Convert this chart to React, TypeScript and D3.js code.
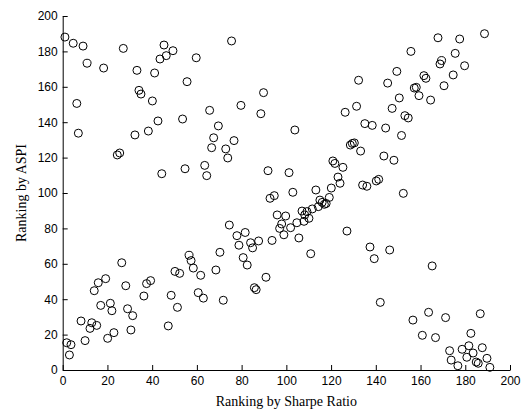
import React, { useEffect, useRef } from "react";
import * as d3 from "d3";

// points: [sharpe ratio rank, ASPI rank]
const topLeft: [number, number][] = [
  [1.0, 188.1], [4.7, 184.6], [9.1, 183], [10.9, 173.3], [18.3, 170.6], [27.1, 181.7],
  [33.2, 169.3], [41.1, 167.8], [43.5, 175.7], [45.3, 183.6], [46.3, 177.6], [49.3, 180.4],
  [59.7, 176.4], [55.6, 162.9], [34.1, 158], [35, 155.9], [40.1, 152], [6.3, 150.6],
  [65.7, 146.7], [42.6, 140.7], [53.6, 141.8], [38.3, 135], [32.3, 132.8], [7, 133.8],
  [69.6, 137.9], [24.4, 121.5], [25.5, 122.6], [44.3, 110.9], [54.7, 113.7], [63.5, 115.6],
  [64.4, 109.8], [67.5, 131.2], [66.6, 125.6],
];

const topMiddle: [number, number][] = [
  [75.5, 185.9], [79.7, 149.5], [89.8, 156.7], [88.6, 144.8], [103.8, 135.6],
  [132.3, 163.7], [131.4, 149], [126.3, 145.6],
];

const topRight: [number, number][] = [
  [167.8, 187.7], [177.5, 187], [188.6, 190], [155.7, 180], [175.5, 178.9], [169.4, 174.8],
  [168.7, 172.9], [179.7, 171.9], [149.4, 168.7], [145.3, 162.1], [161.5, 166.3], [162.4, 164.8],
  [174.6, 166.7], [170.5, 160.6], [157.2, 159.3], [158.1, 159.7], [159.3, 155], [164.5, 152.5],
  [150.5, 153.7], [147.3, 147.8], [153, 143.7], [154.5, 142.4], [135.1, 139.2], [138.4, 138.2],
  [144.4, 136.7], [151.5, 132.5], [133.2, 123.7], [143.6, 120.9], [148.1, 118.5], [134.1, 104.5],
  [136, 103.8], [140.2, 106.8], [141.3, 107.7], [152.3, 99.8],
];

const diagonal: [number, number][] = [
  [76.6, 129.6], [72.9, 124.9], [73.8, 119.8], [128.6, 127.1], [129.5, 128], [130.4, 128.3],
  [120.8, 118.1], [121.7, 116.7], [125.3, 114.5], [91.8, 112.6], [101.2, 111.5], [123.1, 109],
  [124, 105.5], [120.1, 102.8], [113.2, 101.7], [102.9, 100.4], [92.7, 97], [94.6, 98.5],
  [119.2, 97.5], [115, 96], [116, 94.7], [117, 93.6], [117.8, 94.1], [114.3, 92.3],
  [111.6, 91], [109.2, 89.5], [107, 89.8], [108.2, 87.6], [110.1, 85.7], [107.9, 84],
  [104.7, 83.2], [101.9, 80.4], [95.9, 87.6], [99.7, 87], [97.9, 82.5], [97, 80],
  [98.9, 76.4], [93.6, 73.2], [105.6, 74.6], [127.1, 78.5], [74.5, 81.9], [77.9, 75.9],
  [81.6, 77.7], [78.8, 70.5], [84, 71.9], [87.6, 72.9], [84.9, 69],
  [70.3, 66.5], [110.9, 65.7], [80.7, 63.5], [82.5, 59.3], [68.5, 56.5], [90.9, 52.4],
  [85.7, 46.5], [86.5, 45.4], [71.8, 39.4], [62.9, 40.6],
];

const bottomLeft: [number, number][] = [
  [26.4, 60.6], [56.5, 64.8], [57.4, 61.8], [58.4, 57.6], [61.7, 53.5], [50.2, 55.7],
  [52.3, 54.6], [19.2, 51.6], [15.9, 49.3], [14.1, 44.8], [28.2, 47.6], [37.5, 48.8],
  [39.3, 50.5], [36.3, 41.8], [48.5, 42.2], [60.6, 43.7], [17, 36.5], [21.3, 37.7],
  [22, 33.5], [29, 34.6], [31.3, 30.7], [51.3, 35.4], [8.2, 27.7], [13, 26.7],
  [15.2, 25.2], [12.2, 23.5], [30.5, 22.6], [47.2, 24.9], [22.9, 21.1], [20.1, 17.9],
  [10, 16.6], [1.8, 15.4], [3.7, 14.3], [3, 8.5],
];

const bottomRight: [number, number][] = [
  [137.4, 69.5], [146.2, 67.8], [139.3, 62.9], [165.2, 58.8], [142, 38.2], [163.6, 32.6],
  [156.6, 28.2], [171.2, 29.6], [186.7, 31.8], [160.8, 19.6], [166.7, 18.3], [182.5, 20.7],
  [173, 10.9], [178.6, 11.7], [181.6, 13.7], [187.6, 12.6], [173.7, 5.6], [180.7, 7.2],
  [183.5, 9.6], [184.9, 4.5], [185.8, 3.8], [189.7, 6.6], [176.7, 2.4], [191, 1.5],
];

const points = [...topLeft, ...topMiddle, ...topRight, ...diagonal, ...bottomLeft, ...bottomRight];
const ticks = [0, 20, 40, 60, 80, 100, 120, 140, 160, 180, 200];

const W = 528;
const H = 417;

const Scatter = () => {
  const svgRef = useRef<SVGSVGElement>(null);

  useEffect(() => {
    const svg = d3.select(svgRef.current);
    svg.selectAll("*").remove();

    const x = d3.scaleLinear().domain([0, 200]).range([62.7, 510]);
    const y = d3.scaleLinear().domain([0, 200]).range([370, 16]);

    const xAxis = d3.axisBottom(x).tickValues(ticks).tickSizeInner(-5).tickSizeOuter(0).tickPadding(6);
    const yAxis = d3.axisLeft(y).tickValues(ticks).tickSizeInner(-5).tickSizeOuter(0).tickPadding(5);

    const gx = svg.append("g").attr("transform", `translate(0,${y(0)})`).call(xAxis);
    const gy = svg.append("g").attr("transform", `translate(${x(0)},0)`).call(yAxis);
    [gx, gy].forEach((g) => {
      g.selectAll("text")
        .attr("font-family", "Liberation Sans, Arial, sans-serif")
        .attr("font-size", 12)
        .attr("fill", "#000");
      g.selectAll("line").attr("stroke", "#000");
      g.select(".domain").attr("stroke", "#000");
    });

    svg
      .append("g")
      .selectAll("circle")
      .data(points)
      .join("circle")
      .attr("cx", (d) => x(d[0]))
      .attr("cy", (d) => y(d[1]))
      .attr("r", 4)
      .attr("fill", "none")
      .attr("stroke", "#000")
      .attr("stroke-width", 1);

    svg
      .append("text")
      .attr("x", (x(0) + x(200)) / 2)
      .attr("y", 406)
      .attr("text-anchor", "middle")
      .attr("font-family", "Liberation Serif, Times New Roman, serif")
      .attr("font-size", 14)
      .text("Ranking by Sharpe Ratio");

    svg
      .append("text")
      .attr("transform", `translate(26,${(y(0) + y(200)) / 2}) rotate(-90)`)
      .attr("text-anchor", "middle")
      .attr("font-family", "Liberation Serif, Times New Roman, serif")
      .attr("font-size", 14)
      .text("Ranking by ASPI");
  }, []);

  return <svg ref={svgRef} width={W} height={H} style={{ display: "block" }} />;
};

export default function App() {
  return (
    <div style={{ position: "absolute", left: 0, top: 0, width: W, height: H, background: "#fff" }}>
      <Scatter />
    </div>
  );
}
